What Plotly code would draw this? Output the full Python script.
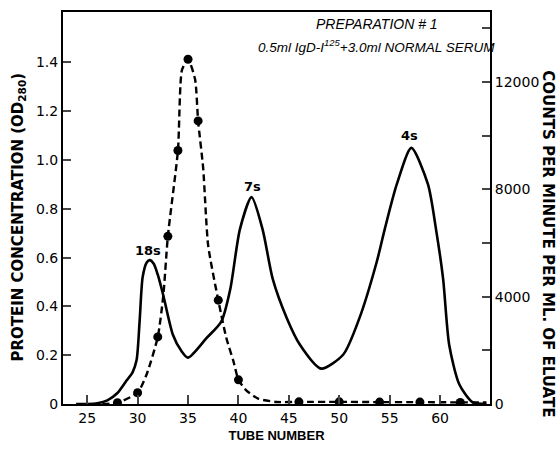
import plotly.graph_objects as go

# Protein concentration (solid curve), OD280
protein_tube = [23.9, 25, 26, 27, 28, 28.9, 29.5, 29.9, 30.2, 30.5, 30.9, 31.2, 31.6, 32.0, 32.55, 33.5,
                34.3, 35.0, 36.85, 38.3, 39.2, 40.15, 41.3, 42.4, 43.4, 44.8, 46.1, 48.2,
                50.4, 52.0, 53.7, 54.5, 55.7, 57.15, 58.8, 59.6, 60.3, 60.9, 61.9, 63.2, 64.6]
protein_od = [0.0, 0.0, 0.003, 0.015, 0.045, 0.096, 0.13, 0.18, 0.34, 0.52, 0.58, 0.59, 0.575, 0.53, 0.445, 0.284,
              0.22, 0.19, 0.271, 0.338, 0.473, 0.717, 0.848, 0.715, 0.513, 0.352, 0.243, 0.145,
              0.203, 0.352, 0.58, 0.715, 0.9, 1.05, 0.9, 0.715, 0.513, 0.243, 0.081, 0.008, 0.0]

# Radioactivity (dashed curve), counts per minute per ml
counts_line_tube = [26.5, 28, 30, 30.9, 32, 32.55, 33, 34, 34.4, 35, 35.7, 36, 36.5, 37, 38, 38.8,
                    39.5, 40, 40.8, 42, 43.8, 46, 50, 54, 58, 62, 64.6]
counts_line_cpm = [0, 50, 420, 1110, 2500, 4050, 6250, 9450, 12450, 12850, 12100, 10550, 8800, 5900,
                   3870, 2460, 1600, 900, 500, 195, 75, 80, 80, 70, 70, 60, 60]

# Measured tubes (dots)
counts_tube = [28, 30, 32, 33, 34, 35, 36, 38, 40, 46, 50, 54, 58, 62]
counts_cpm = [50, 420, 2500, 6250, 9450, 12850, 10550, 3870, 900, 80, 80, 70, 70, 60]

x_ticks = [25, 30, 35, 40, 45, 50, 55, 60]
y_ticks = [0, 0.2, 0.4, 0.6, 0.8, 1.0, 1.2, 1.4]
y_tick_text = ["0", "0.2", "0.4", "0.6", "0.8", "1.0", "1.2", "1.4"]
y2_ticks = [0, 2000, 4000, 6000, 8000, 10000, 12000, 14000]
y2_tick_text = ["0", "", "4000", "", "8000", "", "12000", ""]

peak_labels = ["18s", "7s", "4s"]
peak_tube = [31.0, 41.4, 57.0]
peak_od = [0.63, 0.89, 1.10]

FONT = "DejaVu Sans"
HFONT = "Liberation Sans"
fig = go.Figure()

fig.add_trace(go.Scatter(x=protein_tube, y=protein_od, mode="lines",
                         line=dict(color="black", width=2.6, shape="spline", smoothing=0.7),
                         showlegend=False, hoverinfo="skip"))
fig.add_trace(go.Scatter(x=counts_line_tube, y=counts_line_cpm, mode="lines", yaxis="y2",
                         line=dict(color="black", width=2.4, dash="7px,4px", shape="spline", smoothing=0.6),
                         showlegend=False, hoverinfo="skip"))
fig.add_trace(go.Scatter(x=counts_tube, y=counts_cpm, mode="markers", yaxis="y2",
                         marker=dict(color="black", size=9, symbol="circle"),
                         showlegend=False))

for lab, tx, ty in zip(peak_labels, peak_tube, peak_od):
    fig.add_annotation(x=tx, y=ty, text=lab, showarrow=False,
                       font=dict(family=FONT, size=13, color="black", weight="bold"))

fig.add_annotation(xref="paper", yref="paper", x=0.735, y=0.97, xanchor="center", yanchor="middle",
                   text="<i>PREPARATION # 1</i>",
                   showarrow=False, font=dict(family=HFONT, size=14, color="black"))
fig.add_annotation(xref="paper", yref="paper", x=0.735, y=0.912, xanchor="center", yanchor="middle",
                   text="<i>0.5ml IgD-I<sup>125</sup>+3.0ml NORMAL SERUM</i>",
                   showarrow=False, font=dict(family=HFONT, size=13.5, color="black"))

fig.add_annotation(xref="paper", yref="paper", x=-0.105, y=0.476, textangle=-90,
                   xanchor="center", yanchor="middle",
                   text="PROTEIN CONCENTRATION (OD<sub>280</sub>)", showarrow=False,
                   font=dict(family=FONT, size=15, color="black", weight="bold"))
fig.add_annotation(xref="paper", yref="paper", x=1.136, y=0.41, textangle=90,
                   xanchor="center", yanchor="middle",
                   text="COUNTS PER MINUTE PER ML. OF ELUATE", showarrow=False,
                   font=dict(family=FONT, size=15, color="black", weight="bold"))

fig.update_layout(
    width=560, height=451,
    margin=dict(l=63, r=70, t=10, b=44),
    paper_bgcolor="white", plot_bgcolor="white",
    font=dict(family=FONT, color="black", size=13),
    xaxis=dict(range=[22.6, 64.95], tickvals=x_ticks, ticks="inside", ticklen=9, tickwidth=1.5,
               showline=True, linecolor="black", linewidth=2, mirror=True, showgrid=False,
               zeroline=False, tickfont=dict(family=FONT, size=14),
               title=dict(text="TUBE NUMBER", font=dict(family=HFONT, size=13, weight="bold"), standoff=6)),
    yaxis=dict(range=[0, 1.607], tickvals=y_ticks, ticktext=y_tick_text, ticks="inside",
               ticklen=8, tickwidth=1.5, showline=True, linecolor="black", linewidth=2,
               showgrid=False, zeroline=False, tickfont=dict(family=FONT, size=14)),
    yaxis2=dict(range=[0, 14610], tickvals=y2_ticks, ticktext=y2_tick_text, overlaying="y",
                side="right", ticks="inside", ticklen=8, tickwidth=1.5, showline=True,
                linecolor="black", linewidth=2, showgrid=False, zeroline=False,
                tickfont=dict(family=FONT, size=14)),
)

fig.write_html("out.html")
